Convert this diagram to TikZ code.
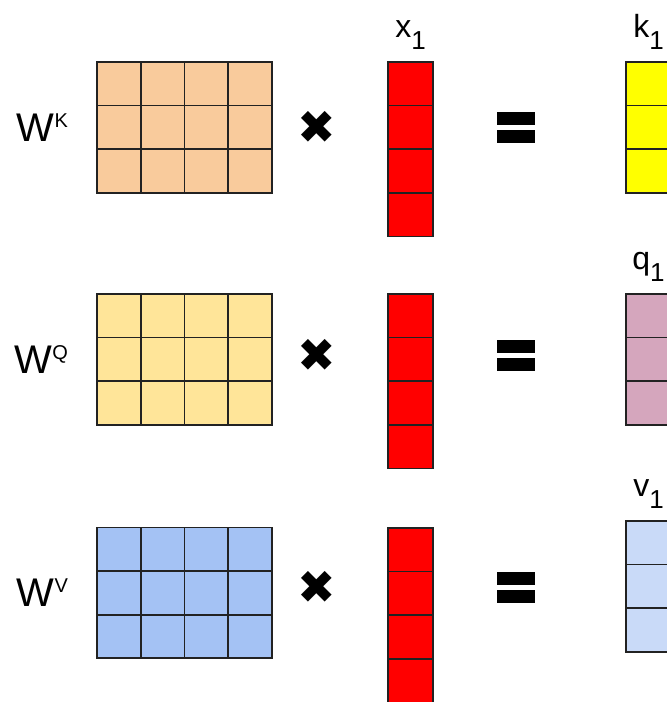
\documentclass[tikz,border=0pt]{standalone}
\usepackage{fontspec}
\setmainfont{Liberation Sans}
\newfontfamily\symfont{DejaVu Sans}
\usepackage{tikz}
\usetikzlibrary{matrix,positioning}
\usepackage{xcolor}
\definecolor{wkfill}{HTML}{F9CB9C}
\definecolor{wqfill}{HTML}{FFE599}
\definecolor{wvfill}{HTML}{A4C2F4}
\definecolor{xfill}{HTML}{FF0000}
\definecolor{kfill}{HTML}{FFFF00}
\definecolor{qfill}{HTML}{D5A6BD}
\definecolor{vfill}{HTML}{C9DAF8}
\definecolor{gridline}{HTML}{222222}
\newcommand{\supletter}[1]{\raisebox{14pt}{\fontsize{20}{20}\selectfont #1}}
\newcommand{\subone}{\raisebox{-12pt}{\fontsize{26}{26}\selectfont 1}}

\begin{document}
\begin{tikzpicture}[
    x=1pt, y=1pt,
    cellgrid/.style={matrix of nodes, nodes in empty cells, anchor=north west,
                     fill=#1, inner sep=0pt, outer sep=0pt,
                     column sep=-1.6pt, row sep=-1.6pt,
                     nodes={draw=gridline, line width=1.6pt, inner sep=0pt,
                            minimum width=43.75pt, minimum height=43.6pt}},
    vecgrid/.style={cellgrid=#1, nodes={minimum width=45pt}},
    wlabel/.style={inner sep=0pt, font=\fontsize{40}{44}\selectfont},
    vlabel/.style={inner sep=0pt, font=\fontsize{32}{34}\selectfont},
    mulsign/.style={inner sep=0pt, font=\symfont\fontsize{46}{46}\selectfont},
    eqbar/.style={rectangle, fill=black, inner sep=0pt, outer sep=0pt,
                  minimum width=38pt, minimum height=13pt}
]
\clip (0,0) rectangle (667,702);

% Key row
\matrix[cellgrid=wkfill] (WK) at (96.2,640.8) { & & & \\ & & & \\ & & & \\ };
\matrix[vecgrid=xfill] (XK) at (387.2,640.8) { \\ \\ \\ \\ };
\matrix[vecgrid=kfill] (KK) at (625.2,640.8) { \\ \\ \\ };
\node[wlabel, left=28pt of WK] (labWK) {W\supletter{K}};
\node[vlabel, above=11pt of XK] (labXK) {x\subone};
\node[vlabel, above=11pt of KK] (labKK) {k\subone};
\node[mulsign] (mulK) at (317,575) {✖};
\node[eqbar] (eqK1) at (516,583.5) {};
\node[eqbar, below=5pt of eqK1] (eqK2) {};

% Query row
\matrix[cellgrid=wqfill] (WQ) at (96.2,408.8) { & & & \\ & & & \\ & & & \\ };
\matrix[vecgrid=xfill] (XQ) at (387.2,408.8) { \\ \\ \\ \\ };
\matrix[vecgrid=qfill] (QQ) at (625.2,408.8) { \\ \\ \\ };
\node[wlabel, left=28pt of WQ] (labWQ) {W\supletter{Q}};
\node[vlabel, above=11pt of QQ] (labQQ) {q\subone};
\node[mulsign] (mulQ) at (317,347) {✖};
\node[eqbar] (eqQ1) at (516,355.5) {};
\node[eqbar, below=5pt of eqQ1] (eqQ2) {};

% Value row
\matrix[cellgrid=wvfill] (WV) at (96.2,175.3) { & & & \\ & & & \\ & & & \\ };
\matrix[vecgrid=xfill] (XV) at (387.2,174.8) { \\ \\ \\ \\ };
\matrix[vecgrid=vfill] (VV) at (625.2,181.8) { \\ \\ \\ };
\node[wlabel, left=28pt of WV] (labWV) {W\supletter{V}};
\node[vlabel, above=11pt of VV] (labVV) {v\subone};
\node[mulsign] (mulV) at (317,115) {✖};
\node[eqbar] (eqV1) at (516,123.5) {};
\node[eqbar, below=5pt of eqV1] (eqV2) {};

\end{tikzpicture}
\end{document}
